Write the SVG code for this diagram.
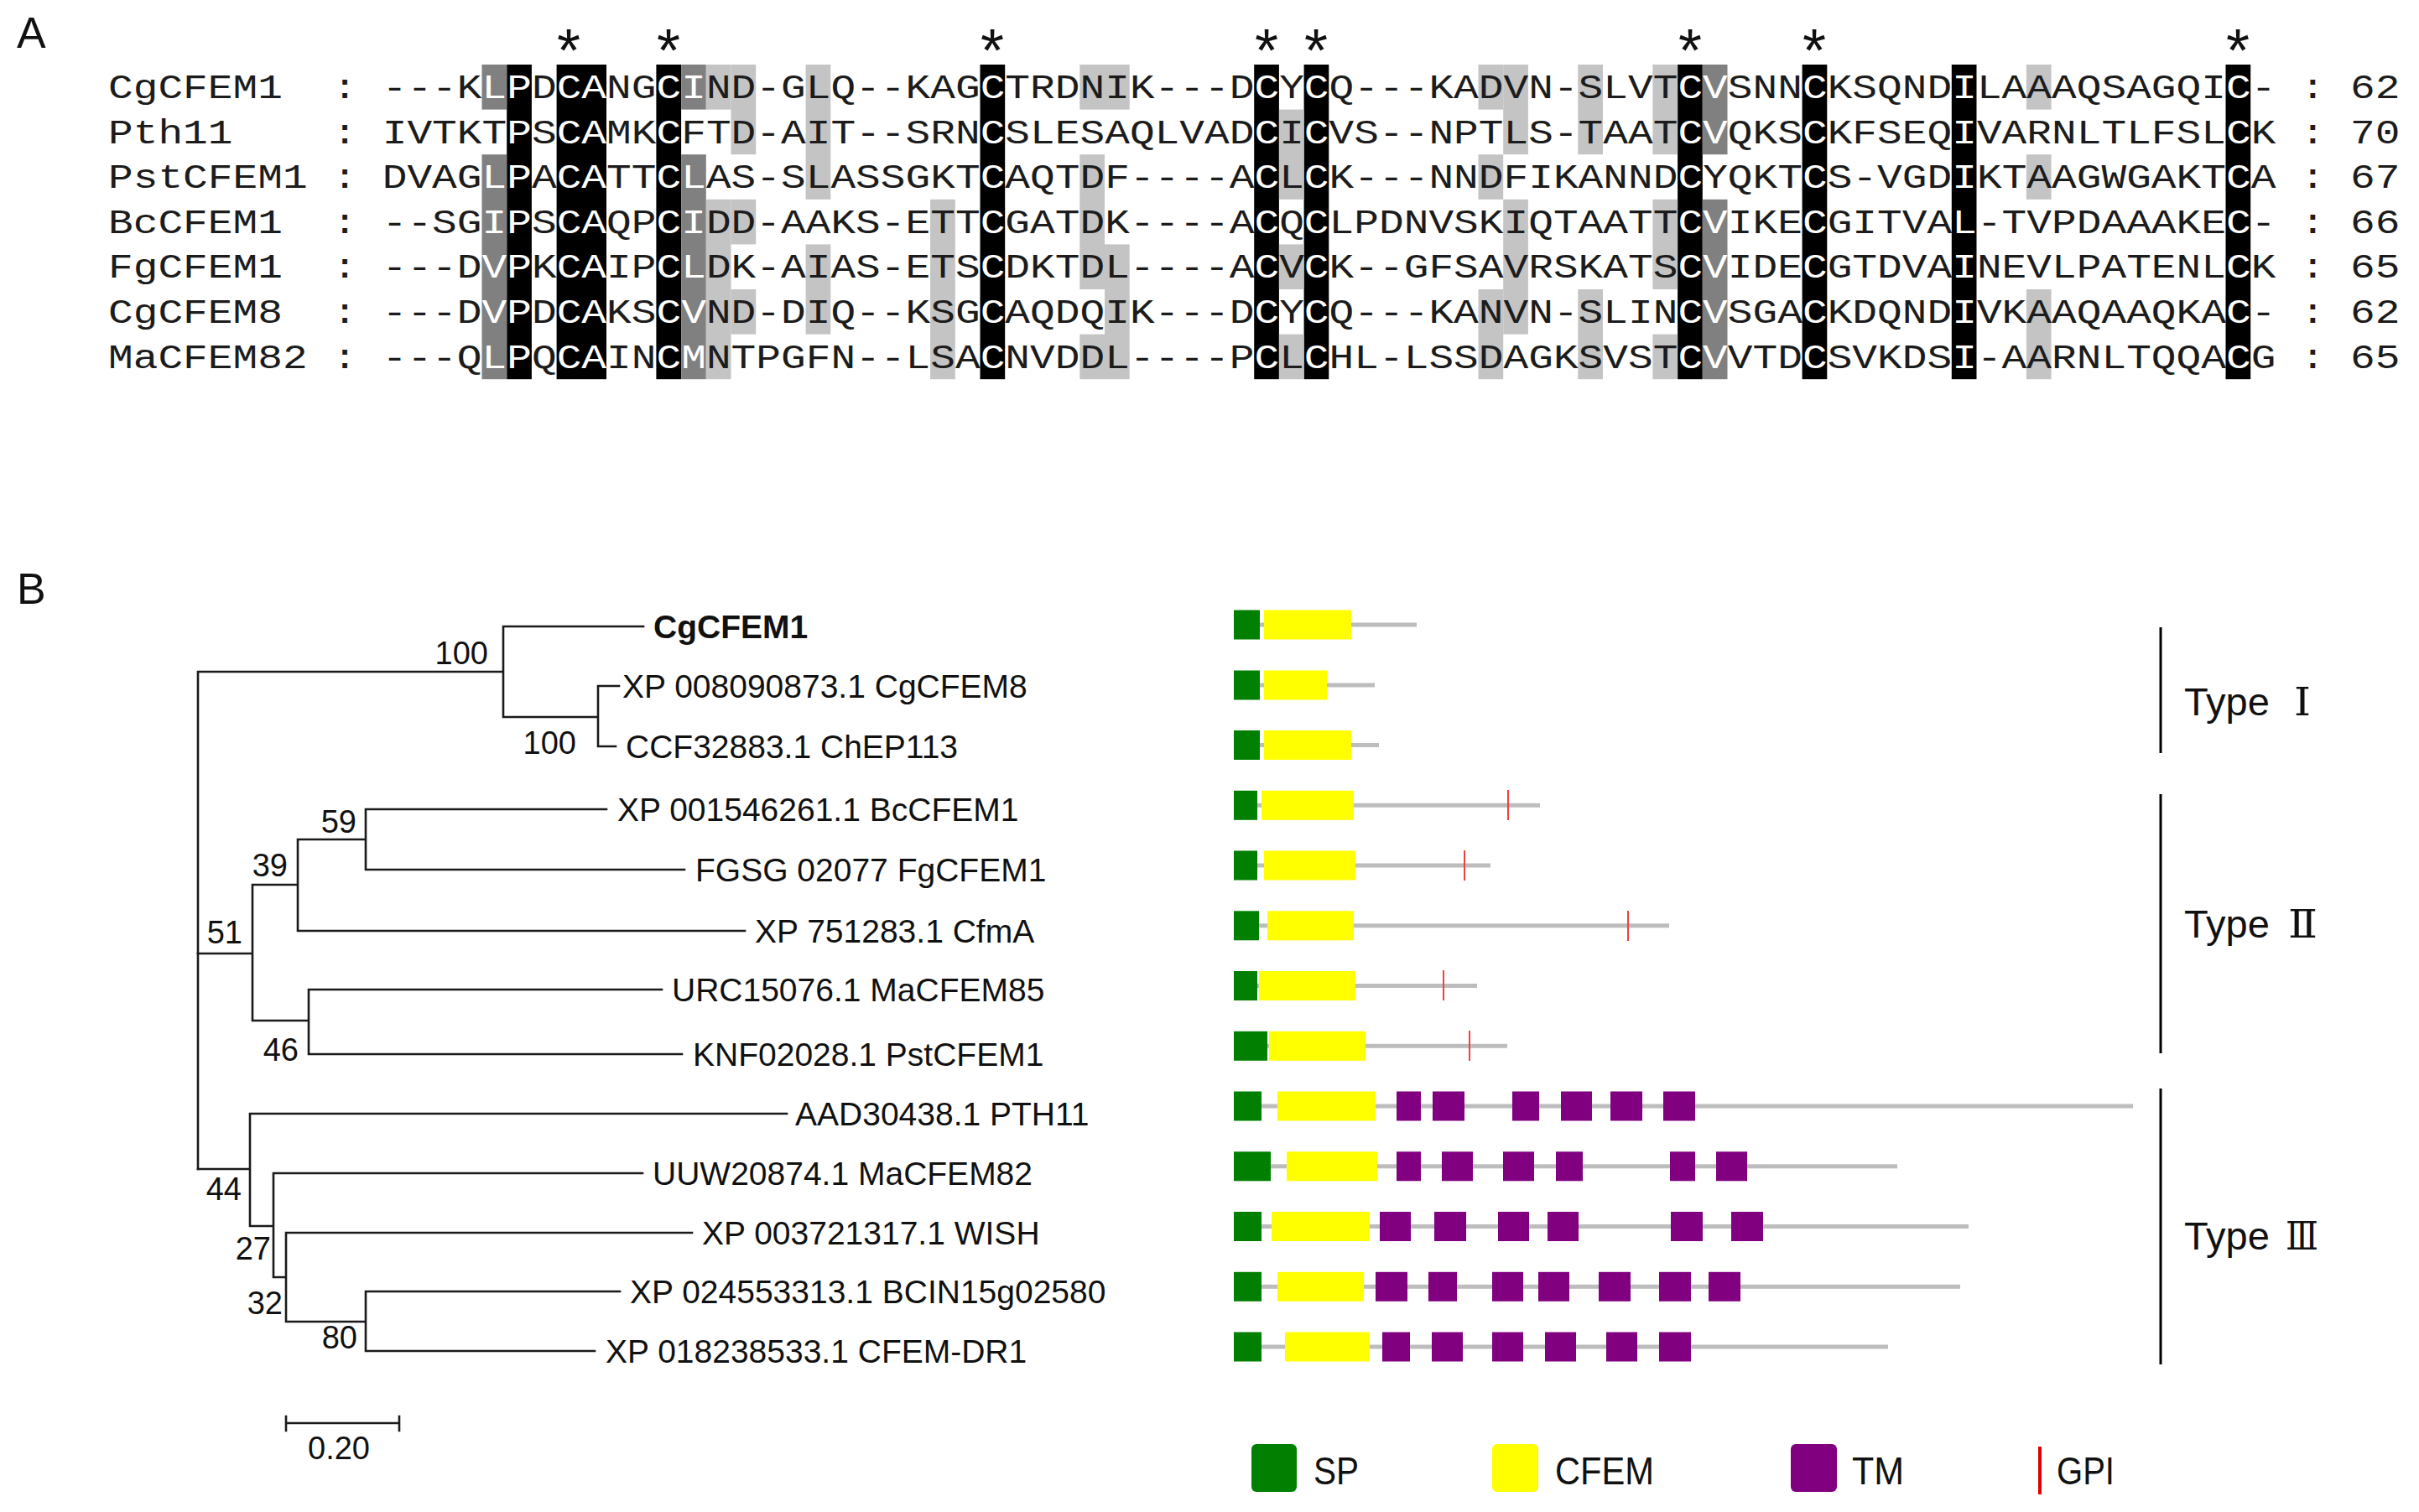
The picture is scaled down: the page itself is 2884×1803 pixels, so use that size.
<svg xmlns="http://www.w3.org/2000/svg" width="2884" height="1803" viewBox="0 0 2884 1803">
<style>
.mono{font-family:"Liberation Mono","Courier New",monospace;font-size:40px;fill:#1c1c1c}
.w{fill:#fff}
.k{fill:#000}
.dg{fill:#808080}
.lg{fill:#c4c4c4}
.sans{font-family:"Liberation Sans",Arial,sans-serif;fill:#111}
.lbl{font-size:39px}
.bs{font-size:38px;text-anchor:end}
.star{font-family:"Liberation Sans",Arial,sans-serif;font-size:72px;text-anchor:middle;fill:#111}
.br{stroke:#1a1a1a;stroke-width:2.6;fill:none;stroke-linecap:square}
.ln{fill:#bdbdbd}
.sp{fill:#007f00}
.cf{fill:#ffff00}
.tm{fill:#800080}
.gpi{stroke:#f04040;stroke-width:2}
.type{stroke:#000;stroke-width:3}
.rn{font-family:"DejaVu Serif","Liberation Serif",serif;font-size:46px;fill:#111}
</style>
<rect width="2884" height="1803" fill="#fff"/>
<text class="sans" x="20" y="57" font-size="52">A</text>
<text class="sans" x="20" y="720" font-size="52">B</text>

<g id="alignment">
<g id="stars">
<text class="star" x="678" y="85">*</text>
<text class="star" x="797" y="85">*</text>
<text class="star" x="1183" y="85">*</text>
<text class="star" x="1510" y="85">*</text>
<text class="star" x="1569" y="85">*</text>
<text class="star" x="2015" y="85">*</text>
<text class="star" x="2163" y="85">*</text>
<text class="star" x="2668" y="85">*</text>
</g>
<g transform="translate(129,0) scale(1.2375,1)">
<g id="shading">
<rect class="k" x="384" y="77" width="24" height="375.2"/>
<rect class="k" x="432" y="77" width="48" height="375.2"/>
<rect class="k" x="528" y="77" width="24" height="375.2"/>
<rect class="k" x="840" y="77" width="24" height="375.2"/>
<rect class="k" x="1104" y="77" width="24" height="375.2"/>
<rect class="k" x="1152" y="77" width="24" height="375.2"/>
<rect class="k" x="1512" y="77" width="24" height="375.2"/>
<rect class="k" x="1632" y="77" width="24" height="375.2"/>
<rect class="k" x="1776" y="77" width="24" height="375.2"/>
<rect class="k" x="2040" y="77" width="24" height="375.2"/>
<rect class="dg" x="360" y="77" width="24" height="53.6"/>
<rect class="dg" x="360" y="184.2" width="24" height="268"/>
<rect class="dg" x="552" y="77" width="24" height="53.6"/>
<rect class="dg" x="552" y="184.2" width="24" height="268"/>
<rect class="dg" x="1536" y="77" width="24" height="107.2"/>
<rect class="dg" x="1536" y="237.8" width="24" height="214.4"/>
<rect class="lg" x="576" y="77" width="24" height="53.6"/>
<rect class="lg" x="576" y="237.8" width="24" height="214.4"/>
<rect class="lg" x="600" y="77" width="24" height="107.2"/>
<rect class="lg" x="600" y="237.8" width="24" height="53.6"/>
<rect class="lg" x="600" y="345" width="24" height="53.6"/>
<rect class="lg" x="672" y="77" width="24" height="160.8"/>
<rect class="lg" x="672" y="291.4" width="24" height="107.2"/>
<rect class="lg" x="792" y="237.8" width="24" height="214.4"/>
<rect class="lg" x="936" y="77" width="24" height="53.6"/>
<rect class="lg" x="936" y="184.2" width="24" height="160.8"/>
<rect class="lg" x="936" y="398.6" width="24" height="53.6"/>
<rect class="lg" x="960" y="77" width="24" height="53.6"/>
<rect class="lg" x="960" y="291.4" width="24" height="160.8"/>
<rect class="lg" x="1128" y="130.6" width="24" height="107.2"/>
<rect class="lg" x="1128" y="291.4" width="24" height="53.6"/>
<rect class="lg" x="1128" y="398.6" width="24" height="53.6"/>
<rect class="lg" x="1320" y="77" width="24" height="53.6"/>
<rect class="lg" x="1320" y="184.2" width="24" height="53.6"/>
<rect class="lg" x="1320" y="345" width="24" height="107.2"/>
<rect class="lg" x="1344" y="77" width="24" height="107.2"/>
<rect class="lg" x="1344" y="237.8" width="24" height="160.8"/>
<rect class="lg" x="1416" y="77" width="24" height="107.2"/>
<rect class="lg" x="1416" y="345" width="24" height="107.2"/>
<rect class="lg" x="1488" y="77" width="24" height="107.2"/>
<rect class="lg" x="1488" y="237.8" width="24" height="107.2"/>
<rect class="lg" x="1488" y="398.6" width="24" height="53.6"/>
<rect class="lg" x="1848" y="77" width="24" height="53.6"/>
<rect class="lg" x="1848" y="184.2" width="24" height="53.6"/>
<rect class="lg" x="1848" y="345" width="24" height="107.2"/>
</g>
<g id="labels" class="mono">
<text x="0" y="117">CgCFEM1</text>
<text x="0" y="170.6">Pth11</text>
<text x="0" y="224.2">PstCFEM1</text>
<text x="0" y="277.8">BcCFEM1</text>
<text x="0" y="331.4">FgCFEM1</text>
<text x="0" y="385">CgCFEM8</text>
<text x="0" y="438.6">MaCFEM82</text>
<text x="216" y="117">:</text><text x="216" y="170.6">:</text><text x="216" y="224.2">:</text><text x="216" y="277.8">:</text><text x="216" y="331.4">:</text><text x="216" y="385">:</text><text x="216" y="438.6">:</text>
<text x="2112" y="117">:</text><text x="2112" y="170.6">:</text><text x="2112" y="224.2">:</text><text x="2112" y="277.8">:</text><text x="2112" y="331.4">:</text><text x="2112" y="385">:</text><text x="2112" y="438.6">:</text>
<text x="2160" y="117">62</text>
<text x="2160" y="170.6">70</text>
<text x="2160" y="224.2">67</text>
<text x="2160" y="277.8">66</text>
<text x="2160" y="331.4">65</text>
<text x="2160" y="385">62</text>
<text x="2160" y="438.6">65</text>
</g>
<g id="sequences" class="mono">
<text x="264" y="117">---K<tspan class="w">LP</tspan>D<tspan class="w">CA</tspan>NG<tspan class="w">CI</tspan>ND-GLQ--KAG<tspan class="w">C</tspan>TRDNIK---D<tspan class="w">C</tspan>Y<tspan class="w">C</tspan>Q---KADVN-SLVT<tspan class="w">CV</tspan>SNN<tspan class="w">C</tspan>KSQND<tspan class="w">I</tspan>LAAAQSAGQI<tspan class="w">C</tspan>-</text>
<text x="264" y="170.6">IVTKT<tspan class="w">P</tspan>S<tspan class="w">CA</tspan>MK<tspan class="w">C</tspan>FTD-AIT--SRN<tspan class="w">C</tspan>SLESAQLVAD<tspan class="w">C</tspan>I<tspan class="w">C</tspan>VS--NPTLS-TAAT<tspan class="w">CV</tspan>QKS<tspan class="w">C</tspan>KFSEQ<tspan class="w">I</tspan>VARNLTLFSL<tspan class="w">C</tspan>K</text>
<text x="264" y="224.2">DVAG<tspan class="w">LP</tspan>A<tspan class="w">CA</tspan>TT<tspan class="w">CL</tspan>AS-SLASSGKT<tspan class="w">C</tspan>AQTDF----A<tspan class="w">C</tspan>L<tspan class="w">C</tspan>K---NNDFIKANND<tspan class="w">C</tspan>YQKT<tspan class="w">C</tspan>S-VGD<tspan class="w">I</tspan>KTAAGWGAKT<tspan class="w">C</tspan>A</text>
<text x="264" y="277.8">--SG<tspan class="w">IP</tspan>S<tspan class="w">CA</tspan>QP<tspan class="w">CI</tspan>DD-AAKS-ETT<tspan class="w">C</tspan>GATDK----A<tspan class="w">C</tspan>Q<tspan class="w">C</tspan>LPDNVSKIQTAATT<tspan class="w">CV</tspan>IKE<tspan class="w">C</tspan>GITVA<tspan class="w">L</tspan>-TVPDAAAKE<tspan class="w">C</tspan>-</text>
<text x="264" y="331.4">---D<tspan class="w">VP</tspan>K<tspan class="w">CA</tspan>IP<tspan class="w">CL</tspan>DK-AIAS-ETS<tspan class="w">C</tspan>DKTDL----A<tspan class="w">C</tspan>V<tspan class="w">C</tspan>K--GFSAVRSKATS<tspan class="w">CV</tspan>IDE<tspan class="w">C</tspan>GTDVA<tspan class="w">I</tspan>NEVLPATENL<tspan class="w">C</tspan>K</text>
<text x="264" y="385">---D<tspan class="w">VP</tspan>D<tspan class="w">CA</tspan>KS<tspan class="w">CV</tspan>ND-DIQ--KSG<tspan class="w">C</tspan>AQDQIK---D<tspan class="w">C</tspan>Y<tspan class="w">C</tspan>Q---KANVN-SLIN<tspan class="w">CV</tspan>SGA<tspan class="w">C</tspan>KDQND<tspan class="w">I</tspan>VKAAQAAQKA<tspan class="w">C</tspan>-</text>
<text x="264" y="438.6">---Q<tspan class="w">LP</tspan>Q<tspan class="w">CA</tspan>IN<tspan class="w">CM</tspan>NTPGFN--LSA<tspan class="w">C</tspan>NVDDL----P<tspan class="w">C</tspan>L<tspan class="w">C</tspan>HL-LSSDAGKSVST<tspan class="w">CV</tspan>VTD<tspan class="w">C</tspan>SVKDS<tspan class="w">I</tspan>-AARNLTQQA<tspan class="w">C</tspan>G</text>
</g>
</g>
</g>

<g id="tree">
<g id="connectors">
<path class="br" d="M236 801 V1394 M236 801 H600 M600 747 V855 M600 747 H767 M600 855 H713 M713 818 V890 M713 818 H738 M713 890 H734"/>
<path class="br" d="M236 1137 H301 M301 1055 V1217 M301 1055 H355 M355 1001 V1110 M355 1001 H436 M436 965 V1037 M436 965 H723 M436 1037 H816 M355 1110 H888 M301 1217 H368 M368 1180 V1257 M368 1180 H789 M368 1257 H813"/>
<path class="br" d="M236 1394 H298 M298 1328 V1462 M298 1328 H938 M298 1462 H326 M326 1399 V1523 M326 1399 H766 M326 1523 H341 M341 1470 V1576 M341 1470 H825 M341 1576 H436 M436 1540 V1611 M436 1540 H739 M436 1611 H709"/>
</g>
<g id="bootstrap" class="sans bs">
<text x="582" y="792">100</text>
<text x="687" y="899">100</text>
<text x="425" y="993">59</text>
<text x="343" y="1045">39</text>
<text x="289" y="1125">51</text>
<text x="356" y="1265">46</text>
<text x="288" y="1431">44</text>
<text x="323" y="1502">27</text>
<text x="337" y="1567">32</text>
<text x="426" y="1608">80</text>
</g>
<g id="leaf-CgCFEM1"><text class="sans lbl" x="779" y="761" font-weight="bold">CgCFEM1</text></g>
<g id="leaf-CgCFEM8"><text class="sans lbl" x="742" y="832">XP 008090873.1 CgCFEM8</text></g>
<g id="leaf-ChEP113"><text class="sans lbl" x="746" y="904">CCF32883.1 ChEP113</text></g>
<g id="leaf-BcCFEM1"><text class="sans lbl" x="736" y="979">XP 001546261.1 BcCFEM1</text></g>
<g id="leaf-FgCFEM1"><text class="sans lbl" x="829" y="1051">FGSG 02077 FgCFEM1</text></g>
<g id="leaf-CfmA"><text class="sans lbl" x="900" y="1124">XP 751283.1 CfmA</text></g>
<g id="leaf-MaCFEM85"><text class="sans lbl" x="801" y="1194">URC15076.1 MaCFEM85</text></g>
<g id="leaf-PstCFEM1"><text class="sans lbl" x="826" y="1271">KNF02028.1 PstCFEM1</text></g>
<g id="leaf-PTH11"><text class="sans lbl" x="948" y="1342">AAD30438.1 PTH11</text></g>
<g id="leaf-MaCFEM82"><text class="sans lbl" x="778" y="1413">UUW20874.1 MaCFEM82</text></g>
<g id="leaf-WISH"><text class="sans lbl" x="837" y="1484">XP 003721317.1 WISH</text></g>
<g id="leaf-BCIN"><text class="sans lbl" x="751" y="1554">XP 024553313.1 BCIN15g02580</text></g>
<g id="leaf-DR1"><text class="sans lbl" x="722" y="1625">XP 018238533.1 CFEM-DR1</text></g>
<g id="scalebar">
<path class="br" d="M341 1697 H476 M341 1689 V1706 M476 1689 V1706"/>
<text class="sans" x="404" y="1740" font-size="38" text-anchor="middle">0.20</text>
</g>
</g>

<g id="domains">
<g id="dom-CgCFEM1"><rect class="ln" x="1471" y="742.5" width="218" height="5"/><rect class="sp" x="1471" y="727.5" width="31" height="35"/><rect class="cf" x="1507" y="727.5" width="104" height="35"/></g>
<g id="dom-CgCFEM8"><rect class="ln" x="1471" y="814.5" width="168" height="5"/><rect class="sp" x="1471" y="799.5" width="31" height="35"/><rect class="cf" x="1507" y="799.5" width="75" height="35"/></g>
<g id="dom-ChEP113"><rect class="ln" x="1471" y="886" width="173" height="5"/><rect class="sp" x="1471" y="871" width="31" height="35"/><rect class="cf" x="1507" y="871" width="104" height="35"/></g>
<g id="dom-BcCFEM1"><rect class="ln" x="1471" y="957.8" width="365" height="5"/><rect class="sp" x="1471" y="942.8" width="28" height="35"/><rect class="cf" x="1504" y="942.8" width="110" height="35"/><line class="gpi" x1="1798" y1="942" x2="1798" y2="978"/></g>
<g id="dom-FgCFEM1"><rect class="ln" x="1471" y="1029.5" width="306" height="5"/><rect class="sp" x="1471" y="1014.5" width="28" height="35"/><rect class="cf" x="1507" y="1014.5" width="109" height="35"/><line class="gpi" x1="1746" y1="1014" x2="1746" y2="1050"/></g>
<g id="dom-CfmA"><rect class="ln" x="1471" y="1101.3" width="519" height="5"/><rect class="sp" x="1471" y="1086.3" width="30" height="35"/><rect class="cf" x="1511" y="1086.3" width="103" height="35"/><line class="gpi" x1="1941" y1="1086" x2="1941" y2="1122"/></g>
<g id="dom-MaCFEM85"><rect class="ln" x="1471" y="1173" width="290" height="5"/><rect class="sp" x="1471" y="1158" width="28" height="35"/><rect class="cf" x="1501" y="1158" width="115" height="35"/><line class="gpi" x1="1721" y1="1157" x2="1721" y2="1193"/></g>
<g id="dom-PstCFEM1"><rect class="ln" x="1471" y="1244.8" width="326" height="5"/><rect class="sp" x="1471" y="1229.8" width="40" height="35"/><rect class="cf" x="1513" y="1229.8" width="115" height="35"/><line class="gpi" x1="1752" y1="1229" x2="1752" y2="1265"/></g>
<g id="dom-PTH11"><rect class="ln" x="1471" y="1316.5" width="1072" height="5"/><rect class="sp" x="1471" y="1301.5" width="33" height="35"/><rect class="cf" x="1523" y="1301.5" width="117" height="35"/>
<rect class="tm" x="1665" y="1301.5" width="29" height="35"/><rect class="tm" x="1708" y="1301.5" width="38" height="35"/><rect class="tm" x="1803" y="1301.5" width="32" height="35"/><rect class="tm" x="1861" y="1301.5" width="37" height="35"/><rect class="tm" x="1920" y="1301.5" width="38" height="35"/><rect class="tm" x="1983" y="1301.5" width="38" height="35"/></g>
<g id="dom-MaCFEM82"><rect class="ln" x="1471" y="1388.3" width="791" height="5"/><rect class="sp" x="1471" y="1373.3" width="44" height="35"/><rect class="cf" x="1534" y="1373.3" width="108" height="35"/>
<rect class="tm" x="1665" y="1373.3" width="29" height="35"/><rect class="tm" x="1719" y="1373.3" width="37" height="35"/><rect class="tm" x="1792" y="1373.3" width="37" height="35"/><rect class="tm" x="1855" y="1373.3" width="32" height="35"/><rect class="tm" x="1991" y="1373.3" width="30" height="35"/><rect class="tm" x="2046" y="1373.3" width="37" height="35"/></g>
<g id="dom-WISH"><rect class="ln" x="1471" y="1460" width="876" height="5"/><rect class="sp" x="1471" y="1445" width="33" height="35"/><rect class="cf" x="1516" y="1445" width="117" height="35"/>
<rect class="tm" x="1645" y="1445" width="37" height="35"/><rect class="tm" x="1710" y="1445" width="38" height="35"/><rect class="tm" x="1786" y="1445" width="37" height="35"/><rect class="tm" x="1845" y="1445" width="37" height="35"/><rect class="tm" x="1992" y="1445" width="38" height="35"/><rect class="tm" x="2064" y="1445" width="38" height="35"/></g>
<g id="dom-BCIN"><rect class="ln" x="1471" y="1531.8" width="866" height="5"/><rect class="sp" x="1471" y="1516.8" width="33" height="35"/><rect class="cf" x="1523" y="1516.8" width="103" height="35"/>
<rect class="tm" x="1640" y="1516.8" width="38" height="35"/><rect class="tm" x="1703" y="1516.8" width="34" height="35"/><rect class="tm" x="1779" y="1516.8" width="37" height="35"/><rect class="tm" x="1834" y="1516.8" width="37" height="35"/><rect class="tm" x="1906" y="1516.8" width="38" height="35"/><rect class="tm" x="1978" y="1516.8" width="38" height="35"/><rect class="tm" x="2037" y="1516.8" width="38" height="35"/></g>
<g id="dom-DR1"><rect class="ln" x="1471" y="1603.5" width="780" height="5"/><rect class="sp" x="1471" y="1588.5" width="33" height="35"/><rect class="cf" x="1532" y="1588.5" width="101" height="35"/>
<rect class="tm" x="1648" y="1588.5" width="33" height="35"/><rect class="tm" x="1707" y="1588.5" width="37" height="35"/><rect class="tm" x="1779" y="1588.5" width="37" height="35"/><rect class="tm" x="1842" y="1588.5" width="37" height="35"/><rect class="tm" x="1915" y="1588.5" width="37" height="35"/><rect class="tm" x="1978" y="1588.5" width="38" height="35"/></g>
</g>

<g id="types">
<g id="type1"><line class="type" x1="2576" y1="748" x2="2576" y2="898"/><text class="sans" x="2604" y="853" font-size="47">Type</text><text class="rn" x="2735" y="853" textLength="20" lengthAdjust="spacingAndGlyphs">Ⅰ</text></g>
<g id="type2"><line class="type" x1="2576" y1="947" x2="2576" y2="1256"/><text class="sans" x="2604" y="1118" font-size="47">Type</text><text class="rn" x="2728" y="1118" textLength="35" lengthAdjust="spacingAndGlyphs">Ⅱ</text></g>
<g id="type3"><line class="type" x1="2576" y1="1298" x2="2576" y2="1627"/><text class="sans" x="2604" y="1490" font-size="47">Type</text><text class="rn" x="2725" y="1490" textLength="39" lengthAdjust="spacingAndGlyphs">Ⅲ</text></g>
</g>

<g id="legend">
<g id="leg-SP"><rect class="sp" x="1492" y="1722" width="54" height="57" rx="6"/><text class="sans" x="1566" y="1770" font-size="46" textLength="54" lengthAdjust="spacingAndGlyphs">SP</text></g>
<g id="leg-CFEM"><rect class="cf" x="1779" y="1722" width="55" height="57" rx="6"/><text class="sans" x="1854" y="1770" font-size="46" textLength="118" lengthAdjust="spacingAndGlyphs">CFEM</text></g>
<g id="leg-TM"><rect class="tm" x="2135" y="1722" width="55" height="57" rx="6"/><text class="sans" x="2208" y="1770" font-size="46" textLength="62" lengthAdjust="spacingAndGlyphs">TM</text></g>
<g id="leg-GPI"><line x1="2432" y1="1725" x2="2432" y2="1782" stroke="#e00000" stroke-width="4"/><text class="sans" x="2452" y="1770" font-size="46" textLength="69" lengthAdjust="spacingAndGlyphs">GPI</text></g>
</g>
</svg>
